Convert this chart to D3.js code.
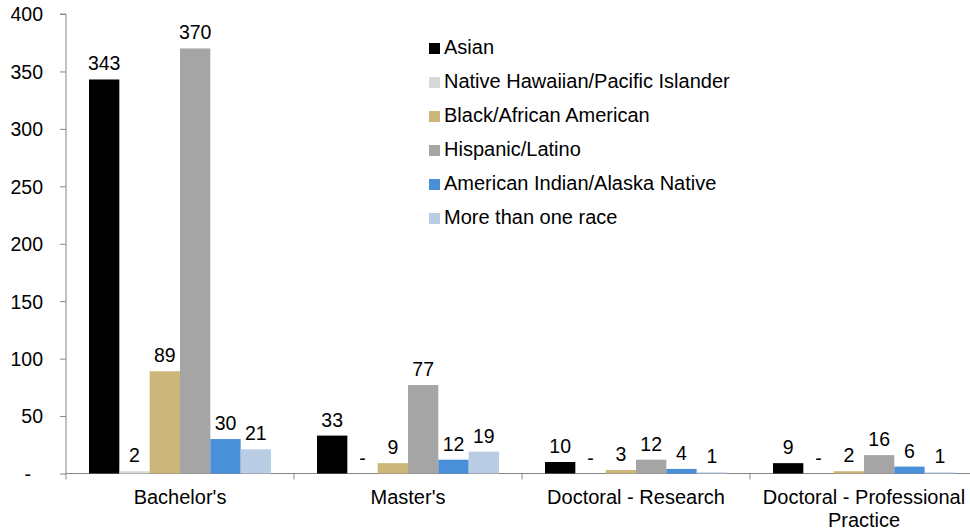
<!DOCTYPE html>
<html>
<head>
<meta charset="utf-8">
<script src="https://cdn.jsdelivr.net/npm/d3@7"></script>
<style>
  body { margin: 0; background: #fff; }
  text { font-family: "Liberation Sans", Arial, sans-serif; fill: #000; }
</style>
</head>
<body>
<svg width="970" height="531"></svg>
<script>
// degree levels along the x axis
const degrees = ["Bachelor's", "Master's", "Doctoral - Research", "Doctoral - Professional Practice"];

// one array per race / ethnicity, in degree order
const races = ["Asian", "Native Hawaiian/Pacific Islander", "Black/African American",
               "Hispanic/Latino", "American Indian/Alaska Native", "More than one race"];
const asian    = [343, 33, 10, 9];
const hawaiian = [2, 0, 0, 0];
const black    = [89, 9, 3, 2];
const hispanic = [370, 77, 12, 16];
const amIndian = [30, 12, 4, 6];
const multi    = [21, 19, 1, 1];
const series = [asian, hawaiian, black, hispanic, amIndian, multi];

const colors = ["#000000", "#d9d9d9", "#cdb67a", "#a5a5a5", "#4a90d9", "#b9cde5"];

const yTicks = [0, 50, 100, 150, 200, 250, 300, 350, 400];

const svg = d3.select("svg");
const plotLeft = 66, plotRight = 978, plotTop = 14, plotBottom = 473.5;
const fs = "19.5px", fsBig = "20px";

const x0 = d3.scaleBand().domain(degrees).range([plotLeft, plotRight]);
const x1 = d3.scaleBand().domain(races).range([23, x0.bandwidth() - 23]);
const y = d3.scaleLinear().domain([0, 400]).range([plotBottom, plotTop]);

const fmt = v => v === 0 ? "-" : String(v);

// y axis
const yAxis = svg.append("g")
  .attr("transform", `translate(${plotLeft},0)`)
  .call(d3.axisLeft(y).tickValues(yTicks).tickSize(6).tickPadding(17).tickFormat(fmt));
yAxis.selectAll("text").style("font-size", fs).attr("dy", "0.35em");
yAxis.selectAll("text").filter(d => d === 0).attr("x", -35);
yAxis.select(".domain").attr("stroke", "#868686").attr("d", `M-6,${plotTop}H0V${plotBottom}`);
yAxis.selectAll(".tick line").attr("stroke", "#868686");

// x axis with ticks at the category boundaries
const xg = svg.append("g").attr("transform", `translate(0,${plotBottom})`);
xg.append("line").attr("x1", plotLeft).attr("x2", plotRight).attr("stroke", "#868686");
xg.selectAll(".bound").data(degrees).enter().append("line")
  .attr("x1", d => x0(d)).attr("x2", d => x0(d))
  .attr("y1", 0).attr("y2", 6).attr("stroke", "#868686");

const catLines = {"Doctoral - Professional Practice": ["Doctoral - Professional", "Practice"]};
xg.selectAll(".cat").data(degrees).enter().append("text")
  .attr("text-anchor", "middle")
  .style("font-size", fsBig)
  .attr("transform", d => `translate(${x0(d) + x0.bandwidth() / 2},30.5)`)
  .each(function (d) {
    const lines = catLines[d] || [d];
    d3.select(this).selectAll("tspan").data(lines).enter().append("tspan")
      .attr("x", 0).attr("dy", (l, i) => i === 0 ? 0 : 23).text(l => l);
  });

// bars
const flat = [];
degrees.forEach((deg, i) => {
  races.forEach((r, j) => flat.push({ deg, race: r, v: series[j][i], c: colors[j] }));
});

svg.append("g").selectAll("rect").data(flat).enter().append("rect")
  .attr("x", d => x0(d.deg) + x1(d.race))
  .attr("width", x1.bandwidth())
  .attr("y", d => y(d.v))
  .attr("height", d => plotBottom - y(d.v))
  .attr("fill", d => d.c);

svg.append("g").selectAll("text").data(flat).enter().append("text")
  .attr("x", d => x0(d.deg) + x1(d.race) + x1.bandwidth() / 2)
  .attr("y", d => y(d.v) - 9)
  .attr("text-anchor", "middle")
  .style("font-size", fs)
  .text(d => fmt(d.v));

// legend
const leg = svg.append("g").attr("transform", "translate(429,54)");
const rows = leg.selectAll("g").data(races).enter().append("g")
  .attr("transform", (d, i) => `translate(0,${i * 34})`);
rows.append("rect").attr("x", 0).attr("y", -11).attr("width", 11).attr("height", 11)
  .attr("fill", (d, i) => colors[i]);
rows.append("text").attr("x", 15)
  .style("font-size", fsBig).text(d => d);
</script>
</body>
</html>
